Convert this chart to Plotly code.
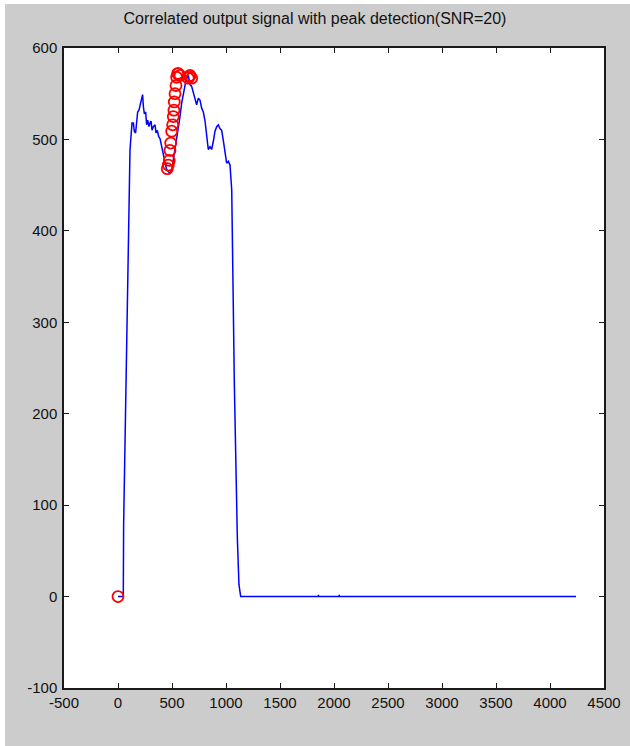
import plotly.graph_objects as go

# Correlated output signal (blue line)
sig_x = [0, 49, 52, 65, 80, 93, 102, 111, 120, 130, 142, 151, 163, 173, 182, 194, 204, 219, 228, 235,
         244, 256, 265, 275, 287, 296, 306, 315, 327, 343, 352, 364, 377, 389, 404, 413, 435, 450, 466,
         482, 497, 512, 527, 543, 559, 574, 590, 605, 620, 630, 651, 667, 682, 697, 713, 728, 744, 759,
         775, 790, 806, 821, 836, 852, 867, 883, 898, 914, 929, 944, 960, 975, 991, 1006, 1022, 1037,
         1053, 1062, 1068, 1077, 1090, 1105, 1120, 1136, 1855, 1856, 1857, 2047, 2048, 2049, 4241]
sig_y = [0, 0, 78, 172, 257, 354, 437, 488, 503, 518, 518, 509, 507, 520, 530, 532, 538, 547, 549, 536,
         528, 530, 516, 521, 514, 518, 520, 510, 514, 516, 507, 510, 503, 501, 492, 487, 477, 467, 465,
         463, 466, 477, 490, 503, 514, 525, 540, 550, 561, 565, 570, 560, 558, 552, 543, 538, 545, 543,
         534, 530, 520, 505, 489, 492, 489, 498, 509, 514, 516, 512, 510, 499, 483, 474, 476, 472,
         445, 387, 314, 234, 139, 64, 13, 0, 0, 2, 0, 0, 2, 0, 0]

# Detected peaks (red circles)
peak_x = [0, 456, 466, 475, 481, 488, 497, 506, 512, 518, 521, 528, 537, 543, 552, 559, 574,
          651, 660, 667, 682]
peak_y = [0, 468, 472, 477, 488, 496, 509, 516, 525, 532, 541, 550, 559, 568, 572, 572, 570,
          567, 569, 570, 567]

x_ticks = [-500, 0, 500, 1000, 1500, 2000, 2500, 3000, 3500, 4000, 4500]
y_ticks = [-100, 0, 100, 200, 300, 400, 500, 600]

FONT = "Liberation Sans, Arial, sans-serif"

fig = go.Figure()
fig.add_trace(go.Scatter(x=sig_x, y=sig_y, mode="lines",
                         line=dict(color="#0000ff", width=1.5), showlegend=False))
fig.add_trace(go.Scatter(x=peak_x, y=peak_y, mode="markers",
                         marker=dict(symbol="circle-open", size=11, color="#ff0000",
                                     line=dict(width=1.8, color="#ff0000")),
                         showlegend=False))

axis_common = dict(showgrid=False, zeroline=False, showline=True, linecolor="#1a1a1a",
                   linewidth=1.5, mirror="ticks", ticks="inside", ticklen=5,
                   tickcolor="#1a1a1a", tickwidth=1.2, automargin=False,
                   tickfont=dict(family=FONT, size=15, color="#111111"))

fig.update_xaxes(range=[-500, 4500], tickvals=x_ticks, ticktext=[str(v) for v in x_ticks],
                 ticklabelstandoff=0, **axis_common)
fig.update_yaxes(range=[-100, 600], tickvals=y_ticks, ticktext=[str(v) for v in y_ticks],
                 ticklabelstandoff=2, **axis_common)

fig.update_layout(
    width=630, height=746,
    margin=dict(l=64, r=26, t=48, b=58, autoexpand=False),
    paper_bgcolor="#cccccc", plot_bgcolor="#ffffff",
    title=dict(text="Correlated output signal with peak detection(SNR=20)",
               x=0.5, xanchor="center", y=0.975, yanchor="middle", automargin=False,
               font=dict(family=FONT, size=16, color="#111111")),
    shapes=[
        dict(type="rect", xref="paper", yref="paper", x0=-64/540, x1=-59/540,
             y0=-58/640, y1=688/640, fillcolor="#ffffff", line=dict(width=0), layer="below"),
        dict(type="rect", xref="paper", yref="paper", x0=-64/540, x1=566/540,
             y0=(640+44)/640, y1=688/640, fillcolor="#ffffff", line=dict(width=0), layer="below"),
    ],
)

fig.write_html("out.html", config={"displayModeBar": False},
               post_script="document.body.style.margin='0';document.body.style.overflow='hidden';")
